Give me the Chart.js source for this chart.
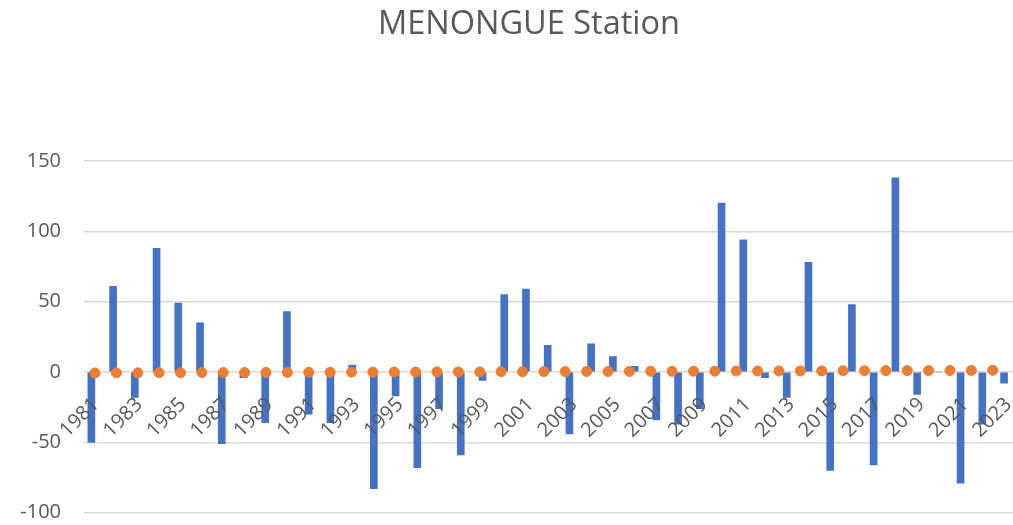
<!DOCTYPE html>
<html lang="en">

<head>
    <meta charset="UTF-8">
    <title>MENONGUE Station</title>
    <script src="https://cdn.jsdelivr.net/npm/chart.js"></script>
    <style>
        html, body {
            margin: 0;
            padding: 0;
            overflow: hidden;
            background: #ffffff;
        }

        .area-grafico {
            position: relative;
            width: 1058px;
            height: 525px;
        }

        .titulo {
            position: absolute;
            top: 6px;
            left: 0;
            width: 1058px;
            margin: 0;
            text-align: center;
            font-family: 'Open Sans', 'Noto Sans', sans-serif;
            font-size: 32.5px;
            line-height: 32.5px;
            font-weight: normal;
            color: #595959;
        }
    </style>
</head>

<body>
    <div class="area-grafico">
        <canvas id="chartMenongue"></canvas>
        <h2 class="titulo">MENONGUE Station</h2>
    </div>
</body>

<script>
    // anos (categorias do eixo x)
    var anos = [1981, 1982, 1983, 1984, 1985, 1986, 1987, 1988, 1989, 1990,
        1991, 1992, 1993, 1994, 1995, 1996, 1997, 1998, 1999, 2000,
        2001, 2002, 2003, 2004, 2005, 2006, 2007, 2008, 2009, 2010,
        2011, 2012, 2013, 2014, 2015, 2016, 2017, 2018, 2019, 2020,
        2021, 2022, 2023]

    // barras azuis
    var anomalias = [-50, 61, -18, 88, 49, 35, -51, -4, -36, 43,
        -30, -36, 5, -83, -17, -68, -26, -59, -6, 55,
        59, 19, -44, 20, 11, 4, -34, -37, -26, 120,
        94, -4, -18, 78, -70, 48, -66, 138, -16, 0,
        -79, -37, -8]

    // pontos laranja
    var tendencia = [-0.7, -0.6, -0.6, -0.5, -0.5, -0.4, -0.4, -0.4, -0.3, -0.3,
        -0.2, -0.2, -0.1, -0.1, 0, 0, 0.1, 0.1, 0.1, 0.2,
        0.2, 0.3, 0.3, 0.4, 0.4, 0.4, 0.5, 0.5, 0.6, 0.6,
        0.7, 0.7, 0.7, 0.8, 0.8, 0.9, 0.9, 1.0, 1.0, 1.0,
        1.1, 1.1, 1.2]

    var ticksY = [-100, -50, 0, 50, 100, 150]

    var pontos = anos.map(function (ano, i) {
        return { x: ano, y: tendencia[i] }
    })

    var corTexto = '#595959'
    var fonte = "'Open Sans', 'Noto Sans', sans-serif"

    var grafico = new Chart(document.getElementById('chartMenongue').getContext('2d'), {
        data: {
            labels: anos.map(String),
            datasets: [{
                type: 'bar',
                label: 'Anomalia',
                data: anomalias,
                backgroundColor: '#4472c4',
                barThickness: 7,
                xAxisID: 'x',
                order: 1
            },
            {
                type: 'scatter',
                label: 'Tendência',
                data: pontos,
                backgroundColor: '#ed7d31',
                borderColor: '#ed7d31',
                pointRadius: 5,
                pointHoverRadius: 5,
                xAxisID: 'x2',
                order: 0
            }]
        },
        options: {
            responsive: true,
            maintainAspectRatio: false,
            animation: false,
            layout: {
                padding: { left: 0, right: 39.6, top: 161, bottom: 12.3 }
            },
            plugins: {
                legend: { display: false },
                tooltip: { enabled: false },
                title: { display: false }
            },
            scales: {
                x: {
                    type: 'category',
                    position: { y: 0 },
                    offset: true,
                    grid: { display: false, drawTicks: false },
                    border: { display: false },
                    afterFit: function (escala) {
                        escala.height = 0
                        escala.paddingTop = 0
                        escala.paddingBottom = 0
                    },
                    ticks: {
                        z: 1,
                        autoSkip: false,
                        minRotation: 45,
                        maxRotation: 45,
                        padding: 21,
                        labelOffset: 1,
                        color: corTexto,
                        font: { family: fonte, size: 20 },
                        callback: function (valor, indice) {
                            return indice % 2 == 0 ? this.getLabelForValue(valor) : ''
                        }
                    }
                },
                x2: {
                    type: 'linear',
                    display: false,
                    min: 1980.485,
                    max: 2024.2
                },
                y: {
                    min: -100,
                    max: 150,
                    grid: { color: '#d9d9d9', lineWidth: 1.5, drawTicks: false },
                    border: { display: false },
                    afterFit: function (escala) {
                        escala.width = 84
                        escala.paddingTop = 0
                        escala.paddingBottom = 0
                    },
                    afterBuildTicks: function (escala) {
                        escala.ticks = ticksY.map(function (v) { return { value: v } })
                    },
                    ticks: {
                        padding: 23,
                        color: corTexto,
                        font: { family: fonte, size: 20 }
                    }
                }
            }
        }
    })
</script>

</html>
